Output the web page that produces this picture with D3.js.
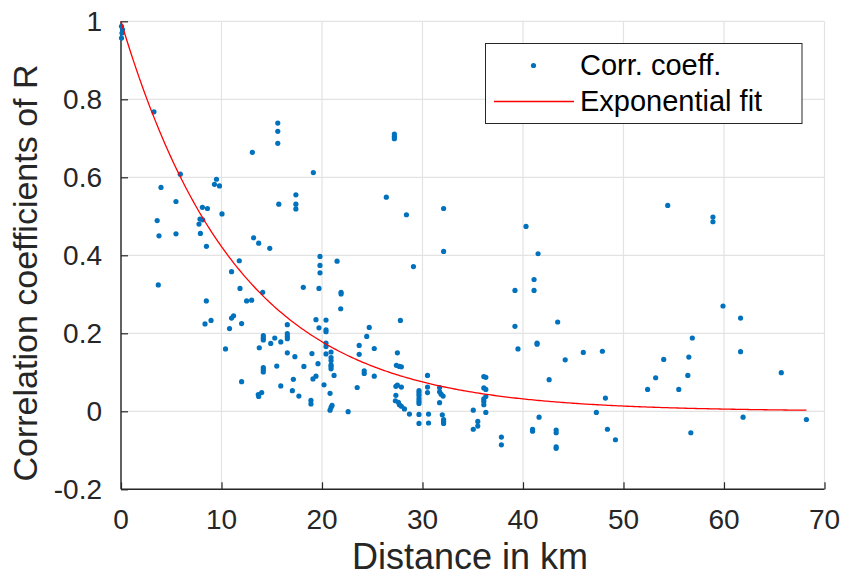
<!DOCTYPE html>
<html>
<head>
<meta charset="utf-8">
<script src="https://cdn.jsdelivr.net/npm/d3@7"></script>
<style>
  body { margin: 0; background: #fff; }
  svg { display: block; font-family: "Liberation Sans", Arial, Helvetica, sans-serif; }
</style>
</head>
<body>
<svg width="842" height="577"></svg>
<script>
// distance between stations (km) and the correlation coefficient of R
const distance = [
  0.05, 0.15, 0.1, 0.05, 3.28, 5.9, 3.98, 5.47, 3.6, 3.78,
  5.47, 7.9, 7.76, 7.86, 8.13, 8.1, 8.6, 8.5, 9.3, 9.5,
  9.8, 10.05, 13.07, 15.6, 15.6, 15.6, 17.4, 17.4, 17.4, 15.7,
  13.2, 13.7, 14.8, 11.77, 11.0, 3.71, 8.49, 8.36, 8.96, 11.84,
  12.5, 13.0, 14.1, 11.0, 11.2, 12.0, 10.8, 10.4, 16.55, 16.55,
  16.55, 16.55, 15.3, 14.16, 14.16, 14.16, 14.9, 15.9, 13.76, 16.55,
  17.3, 15.5, 14.16, 14.16, 14.16, 17.15, 12.0, 15.9, 17.05, 13.66,
  13.7, 14.0, 17.7, 18.14, 19.7, 18.9, 18.9, 19.0, 18.2, 19.1,
  19.4, 19.6, 19.4, 19.7, 27.2, 27.2, 27.2, 19.14, 26.4, 28.4,
  32.1, 32.1, 19.8, 19.8, 19.8, 21.5, 29.1, 21.9, 21.9, 21.86,
  20.4, 20.4, 20.4, 24.7, 24.45, 27.8, 20.4, 20.4, 20.4, 20.9,
  20.9, 20.9, 20.9, 20.9, 20.9, 21.2, 23.7, 23.7, 25.2, 24.2,
  24.2, 25.2, 27.5, 27.4, 27.7, 27.9, 20.2, 20.8, 21.0, 20.9,
  20.8, 22.6, 23.5, 27.35, 27.5, 27.9, 27.35, 27.3, 27.6, 27.7,
  27.9, 28.2, 28.7, 29.65, 29.65, 29.65, 29.65, 29.65, 29.65, 29.65,
  29.65, 30.5, 30.5, 30.5, 30.6, 30.6, 31.7, 31.7, 31.85, 32.05,
  31.7, 31.97, 32.1, 32.1, 32.1, 35.05, 35.05, 35.5, 35.5, 36.1,
  36.1, 36.1, 36.3, 36.3, 36.1, 36.3, 36.1, 36.3, 37.85, 37.85,
  39.2, 39.5, 40.3, 41.5, 41.1, 41.1, 39.2, 43.45, 41.4, 41.4,
  46.0, 47.9, 44.2, 42.6, 40.95, 40.95, 41.6, 43.3, 43.3, 43.3,
  43.3, 47.3, 48.2, 48.4, 49.2, 52.4, 53.2, 54.4, 58.9, 58.9,
  59.9, 61.65, 61.65, 56.85, 54.0, 56.5, 56.4, 55.5, 65.7, 61.9,
  68.2, 56.7
]
const coeff = [
  0.987, 0.979, 0.970, 0.957, 0.768, 0.608, 0.574, 0.538, 0.489, 0.450,
  0.455, 0.456, 0.480, 0.493, 0.491, 0.523, 0.520, 0.423, 0.582, 0.595,
  0.578, 0.506, 0.664, 0.739, 0.718, 0.687, 0.555, 0.531, 0.519, 0.531,
  0.445, 0.431, 0.418, 0.386, 0.358, 0.324, 0.283, 0.224, 0.233, 0.315,
  0.283, 0.285, 0.305, 0.239, 0.245, 0.225, 0.212, 0.160, 0.222, 0.199,
  0.192, 0.186, 0.188, 0.194, 0.188, 0.183, 0.174, 0.178, 0.163, 0.150,
  0.140, 0.116, 0.112, 0.107, 0.101, 0.082, 0.076, 0.065, 0.053, 0.043,
  0.038, 0.048, 0.039, 0.318, 0.315, 0.028, 0.019, 0.148, 0.115, 0.083,
  0.090, 0.122, 0.235, 0.214, 0.711, 0.705, 0.699, 0.612, 0.549, 0.504,
  0.520, 0.410, 0.397, 0.374, 0.355, 0.385, 0.371, 0.305, 0.301, 0.263,
  0.234, 0.209, 0.204, 0.215, 0.192, 0.233, 0.175, 0.166, 0.147, 0.152,
  0.138, 0.130, 0.119, 0.115, 0.109, 0.092, 0.169, 0.146, 0.161, 0.104,
  0.097, 0.090, 0.150, 0.118, 0.115, 0.114, 0.068, 0.046, 0.015, 0.010,
  0.003, -0.001, 0.061, 0.064, 0.067, 0.062, 0.041, 0.027, 0.023, 0.017,
  0.013, 0.006, -0.007, 0.053, 0.047, 0.041, 0.033, 0.026, 0.020, -0.008,
  -0.031, 0.092, 0.062, 0.048, -0.007, -0.030, 0.061, 0.050, 0.044, 0.039,
  0.022, -0.009, -0.021, -0.026, -0.031, 0.003, -0.046, -0.026, -0.038, 0.026,
  0.017, 0.032, -0.003, 0.038, 0.089, 0.087, 0.060, 0.056, -0.066, -0.086,
  0.218, 0.160, 0.474, 0.404, 0.338, 0.310, 0.310, 0.229, 0.175, 0.172,
  0.151, 0.154, 0.132, 0.081, -0.046, -0.051, -0.015, -0.048, -0.055, -0.091,
  -0.095, -0.003, 0.034, -0.046, -0.073, 0.056, 0.086, 0.528, 0.498, 0.486,
  0.270, 0.239, 0.153, 0.188, 0.133, 0.139, 0.092, 0.056, 0.099, -0.015,
  -0.021, -0.055
]

// exponential fit  R = exp(-d / fitLength), drawn over the data range
const fitLength = 11.6
const fitRange = [0, 68.2]

const xTicks = [0, 10, 20, 30, 40, 50, 60, 70]
const yTicks = [-0.2, 0, 0.2, 0.4, 0.6, 0.8, 1]
const legendLabels = ["Corr. coeff.", "Exponential fit"]

const blue = "#0072bd", axisCol = "#262626", gridCol = "#e3e3e3"

const svg = d3.select("svg")
const pL = 121, pR = 824.5, pT = 21.3, pB = 489.3

const x = d3.scaleLinear().domain([0, 70]).range([pL, pR])
const y = d3.scaleLinear().domain([-0.2, 1]).range([pB, pT])

// grid
svg.append("g").selectAll("line").data(xTicks).join("line")
  .attr("x1", d => x(d)).attr("x2", d => x(d)).attr("y1", pT).attr("y2", pB)
  .attr("stroke", gridCol).attr("stroke-width", 1.2)
svg.append("g").selectAll("line").data(yTicks).join("line")
  .attr("x1", pL).attr("x2", pR).attr("y1", d => y(d)).attr("y2", d => y(d))
  .attr("stroke", gridCol).attr("stroke-width", 1.2)

// axes, ticks pointing inward like matlab
const fmt = d => String(+d.toFixed(1))   // plain hyphen for the minus, as in the original
const xAxis = svg.append("g").attr("transform", `translate(0,${pB})`)
  .call(d3.axisTop(x).tickValues(xTicks).tickSize(7).tickFormat(""))
const yAxis = svg.append("g").attr("transform", `translate(${pL},0)`)
  .call(d3.axisRight(y).tickValues(yTicks).tickSize(7).tickFormat(""))
;[xAxis, yAxis].forEach(a => {
  a.select(".domain").attr("stroke", axisCol).attr("stroke-width", 1.4)
  a.selectAll(".tick line").attr("stroke", axisCol).attr("stroke-width", 1.2)
})
// clip the domain end hooks
xAxis.select(".domain").attr("d", `M${pL},0H${pR}`)
yAxis.select(".domain").attr("d", `M0,${pT}V${pB}`)

svg.append("g").selectAll("text").data(xTicks).join("text")
  .attr("x", d => x(d)).attr("y", 529).attr("text-anchor", "middle")
  .attr("font-size", 28).attr("fill", axisCol).text(fmt)
svg.append("g").selectAll("text").data(yTicks).join("text")
  .attr("x", 102).attr("y", d => y(d)).attr("dy", "0.35em").attr("text-anchor", "end")
  .attr("font-size", 28).attr("fill", axisCol).text(fmt)

svg.append("text").attr("x", 470).attr("y", 569)
  .attr("text-anchor", "middle").attr("font-size", 36).attr("fill", axisCol)
  .text("Distance in km")
svg.append("text").attr("transform", "translate(37,273) rotate(-90)")
  .attr("text-anchor", "middle").attr("font-size", 34).attr("fill", axisCol)
  .text("Correlation coefficients of R")

// scatter
svg.append("g").selectAll("circle").data(distance).join("circle")
  .attr("cx", d => x(d)).attr("cy", (d, i) => y(coeff[i]))
  .attr("r", 2.6).attr("fill", blue)

// fit curve
const fitX = d3.range(fitRange[0], fitRange[1], 0.2).concat([fitRange[1]])
svg.append("path").datum(fitX)
  .attr("fill", "none").attr("stroke", "#ff0000").attr("stroke-width", 1.3)
  .attr("d", d3.line().x(d => x(d)).y(d => y(Math.exp(-d / fitLength))))

// legend
const lg = svg.append("g")
lg.append("rect").attr("x", 485.5).attr("y", 43.5).attr("width", 316.5).attr("height", 80)
  .attr("fill", "#fff").attr("stroke", axisCol).attr("stroke-width", 1)
lg.append("circle").attr("cx", 533.5).attr("cy", 65.5).attr("r", 2.6).attr("fill", blue)
lg.append("line").attr("x1", 494).attr("x2", 574).attr("y1", 101.5).attr("y2", 101.5)
  .attr("stroke", "#ff0000").attr("stroke-width", 1.3)
lg.selectAll("text.lab").data(legendLabels).join("text").attr("class", "lab")
  .attr("x", 580).attr("y", (d, i) => 74.5 + i * 36)
  .attr("font-size", 29).attr("fill", "#000").text(d => d)
</script>
</body>
</html>
